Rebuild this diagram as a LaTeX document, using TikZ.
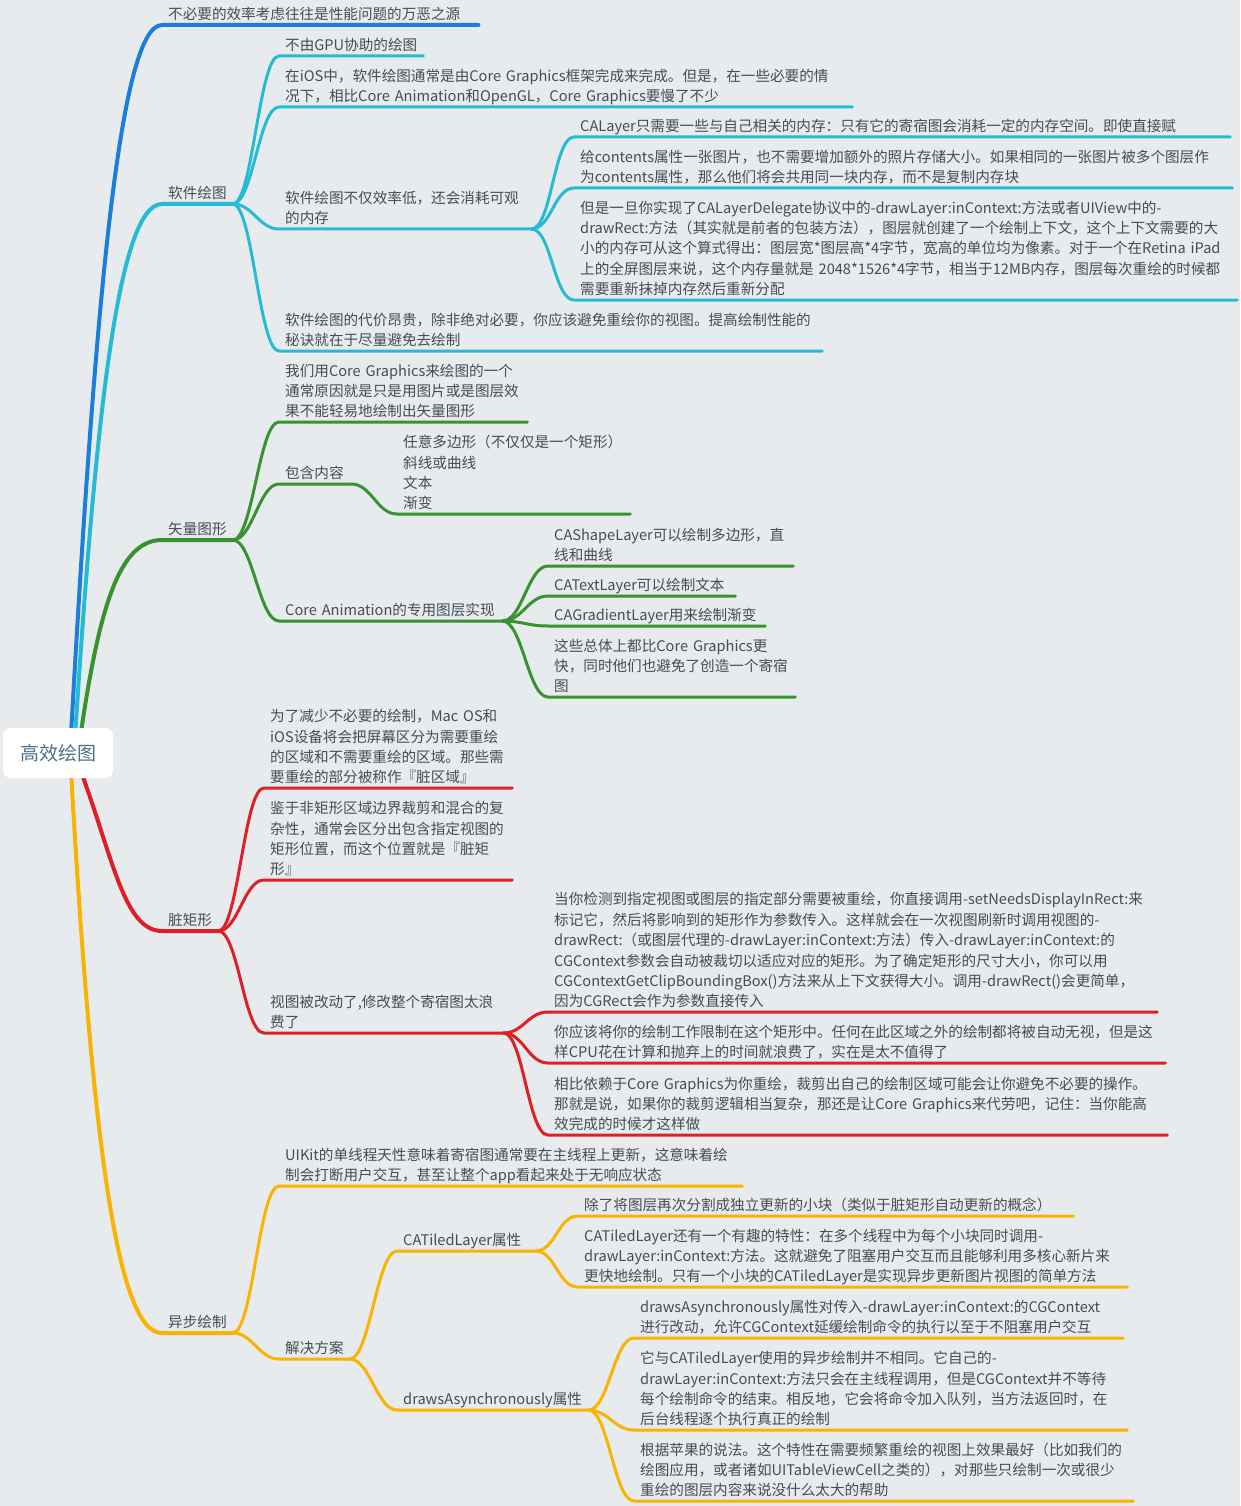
\documentclass[tikz,border=0pt]{standalone}
\usepackage{fontspec}
\setmainfont{Noto Sans CJK SC}
\usepackage{tikz}
\usetikzlibrary{calc}
\definecolor{mBg}{HTML}{E8EBEE}
\definecolor{mText}{HTML}{434D57}
\definecolor{mRootText}{HTML}{4C7287}
\definecolor{mBlue}{HTML}{1A7FDB}
\definecolor{mCyan}{HTML}{25BBD3}
\definecolor{mGreen}{HTML}{37922F}
\definecolor{mRed}{HTML}{DF1F26}
\definecolor{mYellow}{HTML}{F9B300}
\pgfdeclarelayer{back}
\pgfsetlayers{back,main}
\newcommand\mapfont{\fontsize{14.6}{20.4}\selectfont}

\begin{document}
\begin{tikzpicture}[x=1pt, y=-1pt,
    topic/.style={anchor=south west, inner xsep=6, inner ysep=0, align=left,
      font=\mapfont, text=mText, execute at end node={\rule[-5pt]{0pt}{5pt}}},
    blueline/.style={draw=mBlue, line width=3, line cap=round, line join=round},
    cyanline/.style={draw=mCyan, line width=3, line cap=round, line join=round},
    greenline/.style={draw=mGreen, line width=3, line cap=round, line join=round},
    redline/.style={draw=mRed, line width=3, line cap=round, line join=round},
    yellowline/.style={draw=mYellow, line width=3, line cap=round, line join=round},
    curvy/.style={to path={.. controls +(20,0) and +(-20,0) .. (\tikztotarget)}}]
  \useasboundingbox (0,0) rectangle (1240,1506);

  % root
  \node[fill=white, rounded corners=8, minimum width=110, minimum height=50, inner sep=0,
    font=\fontsize{19}{23}\selectfont, text=mRootText] (root) at (58,753) {高效绘图};

  % first level
  \node[topic, text width=304] (waste) at (162,25) {不必要的效率考虑往往是性能问题的万恶之源};
  \node[topic] (sw) at (162,204) {软件绘图};
  \node[topic] (vec) at (162,540) {矢量图形};
  \node[topic] (dirty) at (162,931) {脏矩形};
  \node[topic] (async) at (162,1333) {异步绘制};

  % software drawing
  \node[topic] (sw-gpu) at (279,56) {不由GPU协助的绘图};
  \node[topic, text width=561] (sw-ios) at (279,107) {在iOS中，软件绘图通常是由Core~Graphics框架完成来完成。但是，在一些必要的情\\况下，相比Core~Animation和OpenGL，Core~Graphics要慢了不少};
  \node[topic, text width=240] (sw-mem) at (279,229) {软件绘图不仅效率低，还会消耗可观\\的内存};
  \node[topic, text width=531] (sw-cost) at (279,351) {软件绘图的代价昂贵，除非绝对必要，你应该避免重绘你的视图。提高绘制性能的\\秘诀就在于尽量避免去绘制};
  \node[topic, text width=644] (sw-mem-a) at (574,137) {CALayer只需要一些与自己相关的内存：只有它的寄宿图会消耗一定的内存空间。即使直接赋};
  \node[topic, text width=646] (sw-mem-b) at (574,188) {给contents属性一张图片，也不需要增加额外的照片存储大小。如果相同的一张图片被多个图层作\\为contents属性，那么他们将会共用同一块内存，而不是复制内存块};
  \node[topic, text width=651] (sw-mem-c) at (574,300) {但是一旦你实现了CALayerDelegate协议中的-drawLayer:inContext:方法或者UIView中的-\\drawRect:方法（其实就是前者的包装方法），图层就创建了一个绘制上下文，这个上下文需要的大\\小的内存可从这个算式得出：图层宽*图层高*4字节，宽高的单位均为像素。对于一个在Retina~iPad\\上的全屏图层来说，这个内存量就是~2048*1526*4字节，相当于12MB内存，图层每次重绘的时候都\\需要重新抹掉内存然后重新分配};

  % vector graphics
  \node[topic, text width=236] (vec-why) at (279,422) {我们用Core~Graphics来绘图的一个\\通常原因就是只是用图片或是图层效\\果不能轻易地绘制出矢量图形};
  \node[topic, text width=60] (vec-inc) at (279,484) {包含内容};
  \node[topic, text width=221] (vec-inc-list) at (397,514) {任意多边形（不仅仅是一个矩形）\\斜线或曲线\\文本\\渐变};
  \node[topic, text width=211] (vec-ca) at (279,621) {Core~Animation的专用图层实现};
  \node[topic, text width=233] (vec-ca-a) at (548,566) {CAShapeLayer可以绘制多边形，直\\线和曲线};
  \node[topic, text width=175] (vec-ca-b) at (548,596) {CATextLayer可以绘制文本};
  \node[topic, text width=205] (vec-ca-c) at (548,626) {CAGradientLayer用来绘制渐变};
  \node[topic, text width=235] (vec-ca-d) at (548,697) {这些总体上都比Core~Graphics更\\快，同时他们也避免了创造一个寄宿\\图};

  % dirty rectangles
  \node[topic, text width=236] (dirty-a) at (264,788) {为了减少不必要的绘制，Mac~OS和\\iOS设备将会把屏幕区分为需要重绘\\的区域和不需要重绘的区域。那些需\\要重绘的部分被称作『脏区域』};
  \node[topic, text width=236] (dirty-b) at (264,880) {鉴于非矩形区域边界裁剪和混合的复\\杂性，通常会区分出包含指定视图的\\矩形位置，而这个位置就是『脏矩\\形』};
  \node[topic, text width=227] (dirty-view) at (264,1033) {视图被改动了,修改整个寄宿图太浪\\费了};
  \node[topic, text width=597] (dv-a) at (548,1012) {当你检测到指定视图或图层的指定部分需要被重绘，你直接调用-setNeedsDisplayInRect:来\\标记它，然后将影响到的矩形作为参数传入。这样就会在一次视图刷新时调用视图的-\\drawRect:（或图层代理的-drawLayer:inContext:方法）传入-drawLayer:inContext:的\\CGContext参数会自动被裁切以适应对应的矩形。为了确定矩形的尺寸大小，你可以用\\CGContextGetClipBoundingBox()方法来从上下文获得大小。调用-drawRect()会更简单，\\因为CGRect会作为参数直接传入};
  \node[topic, text width=605] (dv-b) at (548,1063) {你应该将你的绘制工作限制在这个矩形中。任何在此区域之外的绘制都将被自动无视，但是这\\样CPU花在计算和抛弃上的时间就浪费了，实在是太不值得了};
  \node[topic, text width=607] (dv-c) at (548,1135) {相比依赖于Core~Graphics为你重绘，裁剪出自己的绘制区域可能会让你避免不必要的操作。\\那就是说，如果你的裁剪逻辑相当复杂，那还是让Core~Graphics来代劳吧，记住：当你能高\\效完成的时候才这样做};

  % async drawing
  \node[topic, text width=451] (async-why) at (279,1186) {UIKit的单线程天性意味着寄宿图通常要在主线程上更新，这意味着绘\\制会打断用户交互，甚至让整个app看起来处于无响应状态};
  \node[topic] (async-sol) at (279,1359) {解决方案};
  \node[topic, text width=126] (tiled) at (397,1251) {CATiledLayer属性};
  \node[topic, text width=179] (draws) at (397,1410) {drawsAsynchronously属性};
  \node[topic, text width=483] (tiled-a) at (578,1216) {除了将图层再次分割成独立更新的小块（类似于脏矩形自动更新的概念）};
  \node[topic, text width=537] (tiled-b) at (578,1287) {CATiledLayer还有一个有趣的特性：在多个线程中为每个小块同时调用-\\drawLayer:inContext:方法。这就避免了阻塞用户交互而且能够利用多核心新片来\\更快地绘制。只有一个小块的CATiledLayer是实现异步更新图片视图的简单方法};
  \node[topic, text width=477] (draws-a) at (634,1338) {drawsAsynchronously属性对传入-drawLayer:inContext:的CGContext\\进行改动，允许CGContext延缓绘制命令的执行以至于不阻塞用户交互};
  \node[topic, text width=481] (draws-b) at (634,1430) {它与CATiledLayer使用的异步绘制并不相同。它自己的-\\drawLayer:inContext:方法只会在主线程调用，但是CGContext并不等待\\每个绘制命令的结束。相反地，它会将命令加入队列，当方法返回时，在\\后台线程逐个执行真正的绘制};
  \node[topic, text width=487] (draws-c) at (634,1501) {根据苹果的说法。这个特性在需要频繁重绘的视图上效果最好（比如我们的\\绘图应用，或者诸如UITableViewCell之类的），对那些只绘制一次或很少\\重绘的图层内容来说没什么太大的帮助};

  % background and branches from the root, under the root box
  \begin{pgfonlayer}{back}
    \fill[mBg] (0,0) rectangle (1240,1506);
    \draw[blueline, line width=4] ($(root.center)+(12,0)$) .. controls (95,300) and (120,25) .. (waste.south west) -- (waste.south east);
    \draw[cyanline, line width=4] ($(root.center)+(16,0)$) .. controls (95,420) and (118,204) .. (sw.south west) -- (sw.south east);
    \draw[greenline, line width=4] ($(root.center)+(20,0)$) .. controls (98,610) and (118,540) .. (vec.south west) -- (vec.south east);
    \draw[redline, line width=4] ($(root.center)+(16,0)$) .. controls (112,850) and (122,931) .. (dirty.south west) -- (dirty.south east);
    \draw[yellowline, line width=4] ($(root.center)+(12,0)$) .. controls (92,1150) and (118,1333) .. (async.south west) -- (async.south east);
  \end{pgfonlayer}

  % connectors and underlines
  \foreach \p/\n/\c in {sw/sw-gpu/cyanline, sw/sw-ios/cyanline, sw/sw-mem/cyanline, sw/sw-cost/cyanline,
      sw-mem/sw-mem-a/cyanline, sw-mem/sw-mem-b/cyanline, sw-mem/sw-mem-c/cyanline,
      vec/vec-why/greenline, vec/vec-inc/greenline, vec/vec-ca/greenline, vec-inc/vec-inc-list/greenline,
      vec-ca/vec-ca-a/greenline, vec-ca/vec-ca-b/greenline, vec-ca/vec-ca-c/greenline, vec-ca/vec-ca-d/greenline,
      dirty/dirty-a/redline, dirty/dirty-b/redline, dirty/dirty-view/redline,
      dirty-view/dv-a/redline, dirty-view/dv-b/redline, dirty-view/dv-c/redline,
      async/async-why/yellowline, async/async-sol/yellowline, async-sol/tiled/yellowline, async-sol/draws/yellowline,
      tiled/tiled-a/yellowline, tiled/tiled-b/yellowline,
      draws/draws-a/yellowline, draws/draws-b/yellowline, draws/draws-c/yellowline}
    \draw[\c] (\p.south east) to[curvy] (\n.south west) -- (\n.south east);
\end{tikzpicture}
\end{document}
